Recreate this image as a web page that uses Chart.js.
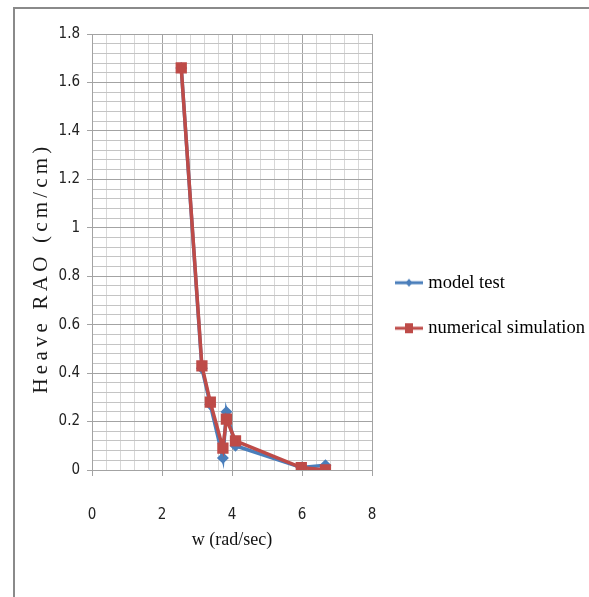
<!DOCTYPE html>
<html>
<head>
<meta charset="utf-8">
<script src="https://cdn.jsdelivr.net/npm/chart.js@4"></script>
<style>
  body { margin: 0; background: #fff; }
  #wrap { position: relative; width: 589px; height: 597px; overflow: hidden; }
  #frame { position: absolute; left: 13px; top: 7px; width: 600px; height: 600px;
           border-top: 2px solid #8a8a8a; border-left: 2px solid #8a8a8a; }
  canvas { position: absolute; left: 0; top: 0; }
</style>
</head>
<body>
<div id="wrap">
  <div id="frame"></div>
  <canvas id="raoChartCanvas" width="589" height="597"></canvas>
</div>
<script>
const wValues = [2.55, 3.14, 3.38, 3.74, 3.84, 4.10, 5.98, 6.67];
const modelTest = [1.66, 0.42, 0.27, 0.05, 0.24, 0.10, 0.01, 0.02];
const numericalSim = [1.66, 0.43, 0.28, 0.09, 0.21, 0.12, 0.01, 0.00];
const seriesNames = ['model test', 'numerical simulation'];
const xTickLabels = ['0', '2', '4', '6', '8'];
const yTickLabels = ['0', '0.2', '0.4', '0.6', '0.8', '1', '1.2', '1.4', '1.6', '1.8'];

const raoChartCanvas = document.getElementById('raoChartCanvas');

const blue = '#4a7ebb';
const red = '#be4b48';

// major lines every 2 on x, every 0.2 on y; minor ones in between
const isMajorX = v => Math.abs(v / 2 - Math.round(v / 2)) < 1e-6;
const isMajorY = v => Math.abs(v / 0.2 - Math.round(v / 0.2)) < 1e-6;

function legendIcon(color, marker) {
    const c = document.createElement('canvas');
    c.width = 28;
    c.height = 12;
    const g = c.getContext('2d');
    g.strokeStyle = color;
    g.lineWidth = 3;
    g.beginPath();
    g.moveTo(0, 6);
    g.lineTo(28, 6);
    g.stroke();
    g.fillStyle = color;
    if (marker === 'square') {
        g.fillRect(10, 1, 8, 10);
    } else {
        g.beginPath();
        g.moveTo(14, 2);
        g.lineTo(17.5, 6);
        g.lineTo(14, 10);
        g.lineTo(10.5, 6);
        g.closePath();
        g.fill();
    }
    return c;
}
const legendIcons = [legendIcon(blue, 'diamond'), legendIcon(red, 'square')];

const tickFont = { family: '"Liberation Sans Narrow", "DejaVu Sans Condensed", "Liberation Sans", Arial', size: 15 };

const raoChart = new Chart(raoChartCanvas, {
    type: 'line',
    data: {
        datasets: [
            {
                label: seriesNames[0],
                data: wValues.map((w, i) => ({ x: w, y: modelTest[i] })),
                borderColor: blue,
                backgroundColor: blue,
                borderWidth: 3.5,
                pointStyle: 'rectRot',
                pointRadius: 3.5,
                tension: 0,
                order: 1
            },
            {
                label: seriesNames[1],
                data: wValues.map((w, i) => ({ x: w, y: numericalSim[i] })),
                borderColor: red,
                backgroundColor: red,
                borderWidth: 3.5,
                pointStyle: 'rect',
                pointRadius: 5.5,
                tension: 0,
                order: 0
            }
        ]
    },
    options: {
        responsive: false,
        animation: false,
        layout: {
            padding: { top: 34, bottom: 20, left: 0, right: 0 }
        },
        plugins: {
            tooltip: { enabled: false },
            legend: {
                position: 'right',
                maxWidth: 217,
                labels: {
                    usePointStyle: true,
                    pointStyleWidth: 20,
                    padding: 27,
                    color: '#000',
                    font: { family: '"Liberation Serif", "Times New Roman", serif', size: 18.5 },
                    sort: (a, b) => a.datasetIndex - b.datasetIndex,
                    generateLabels(chart) {
                        const items = Chart.defaults.plugins.legend.labels.generateLabels(chart);
                        items.forEach(item => { item.pointStyle = legendIcons[item.datasetIndex]; });
                        return items;
                    }
                }
            }
        },
        scales: {
            x: {
                type: 'linear',
                min: 0,
                max: 8,
                afterFit(scale) { scale.height = 107; },
                ticks: {
                    stepSize: 0.4,
                    autoSkip: false,
                    maxRotation: 0,
                    padding: 30,
                    color: '#222',
                    font: tickFont,
                    callback: v => isMajorX(v) ? xTickLabels[Math.round(v / 2)] : ''
                },
                grid: {
                    color: ctx => isMajorX(ctx.tick.value) ? '#a3a3a3' : '#d8d8d8',
                    tickColor: ctx => isMajorX(ctx.tick.value) ? '#a3a3a3' : 'rgba(0,0,0,0)',
                    tickLength: 6,
                    lineWidth: 1
                },
                border: { color: '#a3a3a3', width: 1 },
                title: {
                    display: true,
                    text: 'w (rad/sec)',
                    color: '#111',
                    font: { family: '"Liberation Serif", "Times New Roman", serif', size: 18 },
                    padding: { top: 4, bottom: 26 }
                }
            },
            y: {
                type: 'linear',
                min: 0,
                max: 1.8,
                afterFit(scale) { scale.width = 92; },
                ticks: {
                    stepSize: 0.04,
                    autoSkip: false,
                    padding: 7,
                    color: '#222',
                    font: tickFont,
                    callback: v => isMajorY(v) ? yTickLabels[Math.round(v / 0.2)] : ''
                },
                grid: {
                    color: ctx => isMajorY(ctx.tick.value) ? '#a3a3a3' : '#c4c4c4',
                    tickColor: ctx => isMajorY(ctx.tick.value) ? '#a3a3a3' : 'rgba(0,0,0,0)',
                    tickLength: 5,
                    lineWidth: 1
                },
                border: { color: '#a3a3a3', width: 1 }
            }
        }
    },
    plugins: [
        {
            // rotated y title with the wide letter spacing of the original
            id: 'yTitle',
            afterDraw(chart) {
                const ctx = chart.ctx;
                const area = chart.chartArea;
                ctx.save();
                ctx.translate(41, (area.top + area.bottom) / 2 + 16);
                ctx.rotate(-Math.PI / 2);
                ctx.font = '21px "Liberation Serif", "Times New Roman", serif';
                ctx.letterSpacing = '4.2px';
                ctx.fillStyle = '#1a1a1a';
                ctx.textAlign = 'center';
                ctx.textBaseline = 'middle';
                ctx.fillText('Heave RAO (cm/cm)', 0, 0);
                ctx.restore();
            }
        }
    ]
});
</script>
</body>
</html>
